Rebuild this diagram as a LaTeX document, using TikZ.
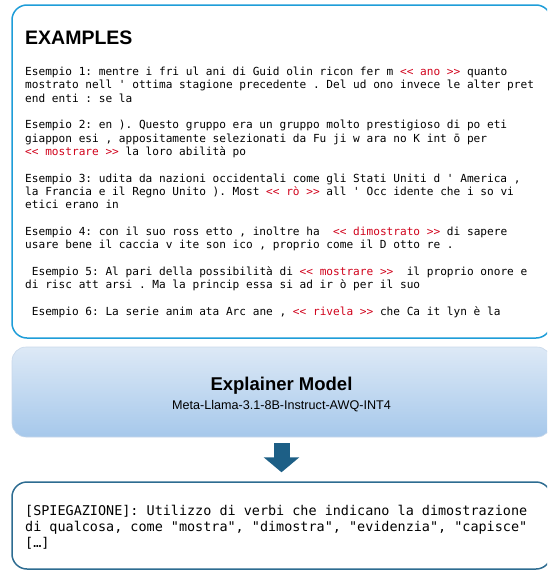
\documentclass[tikz,border=0pt]{standalone}
\usepackage{fontspec}
\setmainfont{Liberation Sans}
\setmonofont{DejaVu Sans Mono}
\usetikzlibrary{arrows.meta}

\definecolor{exframe}{HTML}{1E9DD8}
\definecolor{hlred}{HTML}{D0021B}
\definecolor{modeltop}{HTML}{DDE9F6}
\definecolor{modelbot}{HTML}{A6C8EB}
\definecolor{modeledge}{HTML}{C8D8EA}
\definecolor{flowblue}{HTML}{1D5F86}
\definecolor{outframe}{HTML}{2D6C91}

% highlighted token inside an example
\newcommand\hl[1]{\textcolor{hlred}{#1}}

\begin{document}
\begin{tikzpicture}[x=1pt,y=-1pt,
  panel/.style={rounded corners=15pt, line width=1.5pt, minimum width=539pt, inner sep=0pt},
  exline/.style={anchor=base west, inner sep=0pt, font=\ttfamily\fontsize{11.12}{13.33}\selectfont},
  outline/.style={anchor=base west, inner sep=0pt, font=\ttfamily\fontsize{13.45}{16}\selectfont},
  flow/.style={flowblue, line width=16pt, -{Triangle[width=35pt,length=15pt]}},
]
\useasboundingbox (0,0) rectangle (547,570);
\clip (0,0) rectangle (547,570);

% three stacked panels
\node[panel, draw=exframe, minimum height=333pt] (examples) at (281.5,171.5) {};
\node[panel, draw=modeledge, line width=0.6pt, rounded corners=14pt,
      top color=modeltop, bottom color=modelbot, minimum height=90pt] (model) at (281.5,392) {};
\node[panel, draw=outframe, minimum height=87pt] (explanation) at (281.5,525.5) {};

% examples panel
\node[anchor=base west, inner sep=0pt, font=\bfseries\fontsize{19.5}{23}\selectfont] (title) at (25,44.5) {EXAMPLES};

\node[exline] (e1a) at (25,{75.5+13.33*0}) {Esempio 1: mentre i fri ul ani di Guid olin ricon fer m \hl{<< ano >>} quanto};
\node[exline] (e1b) at (25,{75.5+13.33*1}) {mostrato nell ' ottima stagione precedente . Del ud ono invece le alter pret};
\node[exline] (e1c) at (25,{75.5+13.33*2}) {end enti : se la};

\node[exline] (e2a) at (25,{75.5+13.33*4}) {Esempio 2: en ). Questo gruppo era un gruppo molto prestigioso di po eti};
\node[exline] (e2b) at (25,{75.5+13.33*5}) {giappon esi , appositamente selezionati da Fu ji w ara no K int ō per};
\node[exline] (e2c) at (25,{75.5+13.33*6}) {\hl{<< mostrare >>} la loro abilità po};

\node[exline] (e3a) at (25,{75.5+13.33*8}) {Esempio 3: udita da nazioni occidentali come gli Stati Uniti d ' America ,};
\node[exline] (e3b) at (25,{75.5+13.33*9}) {la Francia e il Regno Unito ). Most \hl{<< rò >>} all ' Occ idente che i so vi};
\node[exline] (e3c) at (25,{75.5+13.33*10}) {etici erano in};

\node[exline] (e4a) at (25,{75.5+13.33*12}) {Esempio 4: con il suo ross etto , inoltre ha\ \ \hl{<< dimostrato >>} di sapere};
\node[exline] (e4b) at (25,{75.5+13.33*13}) {usare bene il caccia v ite son ico , proprio come il D otto re .};

\node[exline] (e5a) at (25,{75.5+13.33*15}) {\ Esempio 5: Al pari della possibilità di \hl{<< mostrare >>}\ \ il proprio onore e};
\node[exline] (e5b) at (25,{75.5+13.33*16}) {di risc att arsi . Ma la princip essa si ad ir ò per il suo};

\node[exline] (e6a) at (25,{75.5+13.33*18}) {\ Esempio 6: La serie anim ata Arc ane , \hl{<< rivela >>} che Ca it lyn è la};

% model panel
\node[anchor=base, inner sep=0pt, font=\bfseries\fontsize{18.5}{22}\selectfont] (modelname) at (281.5,390) {Explainer Model};
\node[anchor=base, inner sep=0pt, font=\fontsize{12.6}{15}\selectfont] (modelid) at (281.5,409) {Meta-Llama-3.1-8B-Instruct-AWQ-INT4};

% flow arrow
\draw[flow, shorten <=6pt, shorten >=9pt] (model.south) -- (explanation.north);

% explanation panel
\node[outline] (x1) at (25,515) {[SPIEGAZIONE]: Utilizzo di verbi che indicano la dimostrazione};
\node[outline] (x2) at (25,531) {di qualcosa, come "mostra", "dimostra", "evidenzia", "capisce"};
\node[outline] (x3) at (25,547) {[…]};
\end{tikzpicture}
\end{document}
